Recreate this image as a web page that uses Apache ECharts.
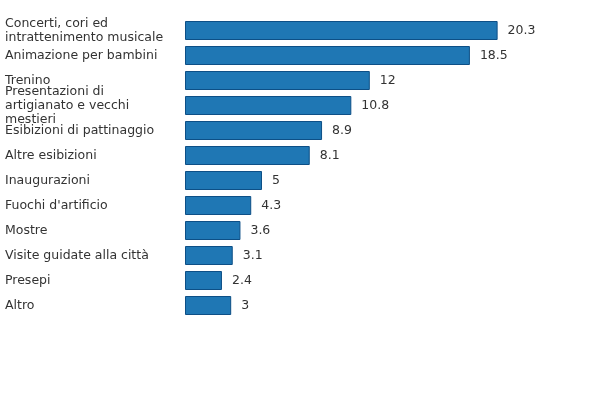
<!DOCTYPE html>
<html>
<head>
<meta charset="utf-8">
<script src="https://cdn.jsdelivr.net/npm/echarts@6/dist/echarts.min.js"></script>
<style>
  html, body { margin: 0; padding: 0; background: #fff; }
  #chart { width: 600px; height: 400px; }
</style>
</head>
<body>
<div id="chart"></div>
<script>
// categorie (dall'alto verso il basso)
var categories = [
  'Concerti, cori ed intrattenimento musicale',
  'Animazione per bambini',
  'Trenino',
  'Presentazioni di artigianato e vecchi mestieri',
  'Esibizioni di pattinaggio',
  'Altre esibizioni',
  'Inaugurazioni',
  "Fuochi d'artificio",
  'Mostre',
  'Visite guidate alla città',
  'Presepi',
  'Altro'
]
var values = [20.3, 18.5, 12, 10.8, 8.9, 8.1, 5, 4.3, 3.6, 3.1, 2.4, 3]

var myChart = echarts.init(document.getElementById('chart'))

var option = {
  animation: false,
  textStyle: { fontFamily: 'DejaVu Sans' },
  grid: { left: 185, right: 30, top: 18, height: 300 },
  xAxis: {
    type: 'value',
    min: 0,
    max: 25,
    show: false
  },
  yAxis: {
    type: 'category',
    inverse: true,
    data: categories,
    axisLine: { show: false },
    axisTick: { show: false },
    axisLabel: {
      align: 'left',
      margin: 180,
      width: 166,
      overflow: 'break',
      lineHeight: 14,
      fontSize: 12.5,
      color: '#333'
    }
  },
  series: [
    {
      type: 'bar',
      data: values,
      barCategoryGap: '24%',
      itemStyle: {
        color: '#1f77b4',
        borderColor: '#0d4f86',
        borderWidth: 1
      },
      label: {
        show: true,
        position: 'right',
        distance: 10,
        fontSize: 12.5,
        color: '#333'
      }
    }
  ]
}

myChart.setOption(option)
</script>
</body>
</html>
